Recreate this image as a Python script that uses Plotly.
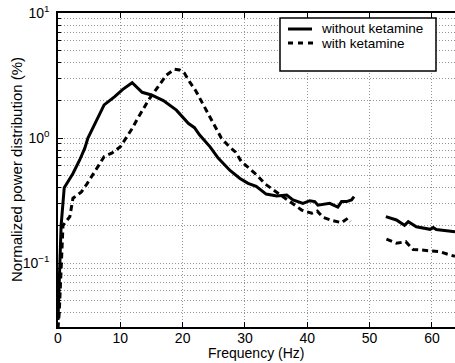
import plotly.graph_objects as go

# Data
freq_without = [0, 0.25, 0.5, 1.0, 2.4, 3.5, 4.3, 4.8, 6.2, 7.4, 9.1, 10.4, 11.9, 13.5, 15.0, 16.9,
                19.0, 20.9, 21.9, 22.7, 24.4, 25.7, 27.6, 29.2, 30.5, 31.8, 33.4, 35.1, 36.7, 37.7,
                39.3, 40.4, 41.2, 41.7, 43.6, 44.9, 45.5, 46.3, 47.1, 47.5, 50.0,
                52.6, 54.3, 55.6, 56.2, 57.5, 59.7, 60.2, 60.7, 62.0, 63.7]
power_without = [0.035, 0.1, 0.2, 0.40, 0.52, 0.67, 0.83, 1.0, 1.39, 1.84, 2.14, 2.45, 2.77, 2.32, 2.21, 1.99,
                 1.67, 1.31, 1.21, 1.06, 0.85, 0.69, 0.55, 0.475, 0.434, 0.41, 0.356, 0.344, 0.35, 0.32,
                 0.30, 0.315, 0.31, 0.29, 0.30, 0.28, 0.31, 0.31, 0.32, 0.34, None,
                 0.235, 0.221, 0.20, 0.214, 0.195, 0.186, 0.192, 0.185, 0.182, 0.178]

freq_with = [0, 0.2, 0.8, 1.9, 2.4, 3.75, 4.65, 5.6, 6.4, 7.4, 8.7, 10.0, 11.0, 11.9, 12.7, 13.6, 14.6,
             15.5, 16.5, 17.4, 18.7, 19.5, 20.3, 21.1, 22.1, 22.9, 23.7, 24.5, 25.3, 26.2, 27.4, 28.5,
             29.4, 30.7, 31.9, 33.2, 34.4, 35.6, 36.7, 37.7, 39.1, 40.7, 41.6, 42.5, 44.1, 45.5, 46.5,
             46.9, 50.0, 52.7, 54.3, 55.8, 57.0, 58.3, 59.9, 61.3, 62.9, 63.7]
power_with = [0.03, 0.04, 0.20, 0.235, 0.33, 0.37, 0.43, 0.506, 0.59, 0.71, 0.76, 0.85, 1.01, 1.19, 1.41,
              1.67, 2.04, 2.35, 2.77, 3.19, 3.55, 3.5, 3.29, 2.82, 2.39, 2.01, 1.67, 1.41, 1.19, 1.0, 0.86,
              0.77, 0.65, 0.57, 0.506, 0.43, 0.39, 0.35, 0.325, 0.30, 0.265, 0.25, 0.26, 0.232, 0.218, 0.21,
              0.228, 0.215, None, 0.155, 0.144, 0.148, 0.128, 0.127, 0.125, 0.123, 0.116, 0.113]

series_names = ["without ketamine", "with ketamine"]
x_title = "Frequency (Hz)"
y_title = "Normalized power distribution (%)"
y_tickvals = [0.1, 1, 10]
y_ticktext = ["10<sup>\u22121</sup>", "10<sup>0</sup>", "10<sup>1</sup>"]
x_tickvals = [0, 10, 20, 30, 40, 50, 60]
y_minor = [m * 10.0 ** e for e in (-2, -1, 0) for m in range(2, 10)]

FONT = "Liberation Sans, Arial, Helvetica, sans-serif"
DASH = "6px,4px"
GRID = dict(gridcolor="#959595", griddash="1px,2px", gridwidth=1)

# plot-area geometry (px) used to place the hand-drawn legend
L, T, W, H = 58, 13, 397, 314
def px(x): return (x - L) / W
def py(y): return (T + H - y) / H

fig = go.Figure()
fig.add_trace(go.Scatter(x=freq_without, y=power_without, mode="lines", name=series_names[0],
                         line=dict(color="black", width=3), connectgaps=False, showlegend=False))
fig.add_trace(go.Scatter(x=freq_with, y=power_with, mode="lines", name=series_names[1],
                         line=dict(color="black", width=3, dash=DASH), connectgaps=False, showlegend=False))

shapes = [
    dict(type="rect", xref="paper", yref="paper", x0=px(280), x1=px(436), y0=py(71), y1=py(18),
         line=dict(color="black", width=1.5), fillcolor="white", layer="above"),
    dict(type="line", xref="paper", yref="paper", x0=px(288), x1=px(312), y0=py(29), y1=py(29),
         line=dict(color="black", width=3), layer="above"),
    dict(type="line", xref="paper", yref="paper", x0=px(288), x1=px(314), y0=py(43), y1=py(43),
         line=dict(color="black", width=3, dash="5px,5px"), layer="above"),
]
annotations = [
    dict(text=series_names[0], xref="paper", yref="paper", x=px(319), y=py(28.5), xanchor="left",
         yanchor="middle", showarrow=False, font=dict(size=13.5)),
    dict(text=series_names[1], xref="paper", yref="paper", x=px(319), y=py(43.5), xanchor="left",
         yanchor="middle", showarrow=False, font=dict(size=13.5)),
    dict(text=x_title, xref="paper", yref="paper", x=px(256), y=py(353), xanchor="center",
         yanchor="middle", showarrow=False, font=dict(size=14)),
    dict(text=y_title, xref="paper", yref="paper", x=px(16), y=py(170), xanchor="center",
         yanchor="middle", showarrow=False, textangle=-90, font=dict(size=15)),
]

fig.update_layout(
    width=455, height=363,
    margin=dict(l=L, r=455 - L - W, t=T, b=363 - T - H),
    paper_bgcolor="white", plot_bgcolor="white",
    font=dict(family=FONT, size=14, color="black"),
    showlegend=False,
    shapes=shapes, annotations=annotations,
)
fig.update_xaxes(
    range=[0, 63.7], tickvals=x_tickvals, showline=True, linecolor="black", linewidth=1.5, mirror="ticks",
    ticks="inside", ticklen=5, tickcolor="black", showgrid=True, zeroline=False,
    tickfont=dict(size=14), ticklabelstandoff=-3, **GRID,
)
fig.update_yaxes(
    type="log", range=[-1.512, 1], tickvals=y_tickvals, ticktext=y_ticktext,
    showline=True, linecolor="black", linewidth=1.5, mirror=False,
    ticks="inside", ticklen=5, tickcolor="black", showgrid=True, zeroline=False,
    minor=dict(tickvals=y_minor, showgrid=True, ticks="inside", ticklen=3, tickcolor="black", **GRID),
    tickfont=dict(size=14), ticklabelstandoff=4,
    **GRID,
)

fig.write_html("out.html")
